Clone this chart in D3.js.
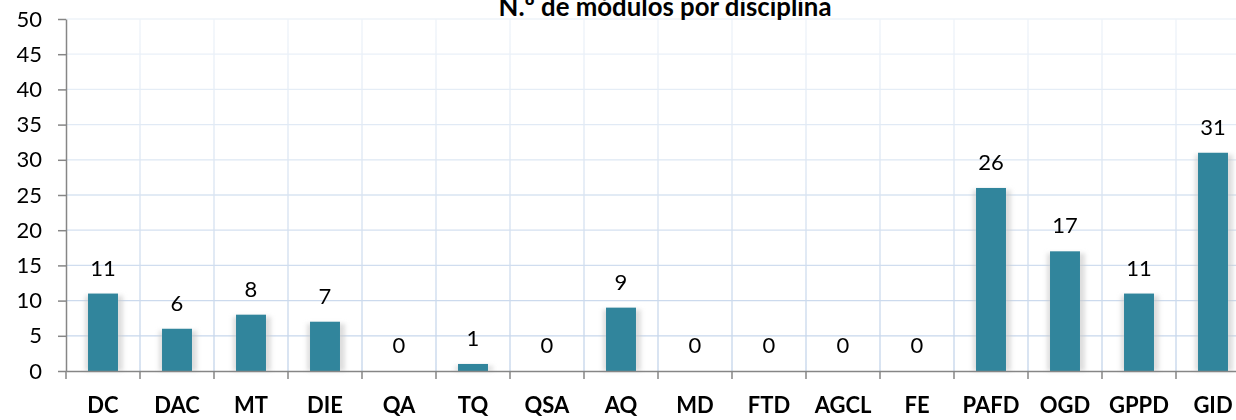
<!DOCTYPE html>
<html>
<head>
<meta charset="utf-8">
<script src="https://cdn.jsdelivr.net/npm/d3@7"></script>
<style>
  html, body { margin: 0; padding: 0; background: #fff; overflow: hidden; }
  svg { display: block; font-family: Lato, "Open Sans", sans-serif; }
</style>
</head>
<body>
<div id="chart"></div>
<script>
const width = 1236;
const height = 420;
const margin = { top: 19, right: -14, bottom: 49, left: 66 };
const innerWidth = width - margin.left - margin.right;
const innerHeight = height - margin.top - margin.bottom;

const categories = ["DC", "DAC", "MT", "DIE", "QA", "TQ", "QSA", "AQ", "MD", "FTD", "AGCL", "FE", "PAFD", "OGD", "GPPD", "GID"];
const modules = [11, 6, 8, 7, 0, 1, 0, 9, 0, 0, 0, 0, 26, 17, 11, 31];
const yTicks = [0, 5, 10, 15, 20, 25, 30, 35, 40, 45, 50];
const title = "N.º de módulos por disciplina";

const data = categories.map((c, i) => ({ cat: c, value: modules[i] }));

const svg = d3.select("#chart")
  .append("svg")
  .attr("width", width)
  .attr("height", height)
  .attr("viewBox", [0, 0, width, height]);

const defs = svg.append("defs");

const gridGrad = defs.append("linearGradient")
  .attr("id", "gridGrad")
  .attr("gradientUnits", "userSpaceOnUse")
  .attr("x1", 0).attr("y1", 0)
  .attr("x2", 0).attr("y2", innerHeight);
gridGrad.append("stop").attr("offset", "0%").attr("stop-color", "#eef3f9");
gridGrad.append("stop").attr("offset", "100%").attr("stop-color", "#c3d4ea");

defs.append("filter")
  .attr("id", "glow")
  .attr("x", "-50%").attr("y", "-20%")
  .attr("width", "200%").attr("height", "140%")
  .append("feGaussianBlur")
  .attr("stdDeviation", 2.2);

const innerChart = svg.append("g")
  .attr("transform", `translate(${margin.left}, ${margin.top})`);

const xScale = d3.scaleBand()
  .domain(categories)
  .range([0, innerWidth])
  .padding(0);

const yScale = d3.scaleLinear()
  .domain([0, 50])
  .range([innerHeight, 0]);

const barWidth = xScale.bandwidth() * 0.405;

// horizontal grid
innerChart.append("g")
  .selectAll("line")
  .data(yTicks.filter(d => d > 0))
  .join("line")
  .attr("x1", 0)
  .attr("x2", innerWidth)
  .attr("y1", d => yScale(d))
  .attr("y2", d => yScale(d))
  .attr("stroke", d => d3.interpolateRgb("#c3d4ea", "#eef3f9")(d / 50))
  .attr("stroke-width", 1.3);

// vertical grid at band edges
innerChart.append("g")
  .selectAll("line")
  .data(categories.slice(1))
  .join("line")
  .attr("x1", d => xScale(d))
  .attr("x2", d => xScale(d))
  .attr("y1", 0)
  .attr("y2", innerHeight)
  .attr("stroke", "url(#gridGrad)")
  .attr("stroke-width", 1.3);

// bar shadows
innerChart.append("g")
  .attr("filter", "url(#glow)")
  .selectAll("rect")
  .data(data.filter(d => d.value > 0))
  .join("rect")
  .attr("x", d => xScale(d.cat) + (xScale.bandwidth() - barWidth) / 2 - 3)
  .attr("width", barWidth + 8)
  .attr("y", d => yScale(d.value) + 2)
  .attr("height", d => innerHeight - yScale(d.value) - 2)
  .attr("fill", "#c8c8c8")
  .attr("opacity", 0.6);

// bars
innerChart.append("g")
  .selectAll("rect")
  .data(data)
  .join("rect")
  .attr("x", d => xScale(d.cat) + (xScale.bandwidth() - barWidth) / 2)
  .attr("width", barWidth)
  .attr("y", d => yScale(d.value))
  .attr("height", d => innerHeight - yScale(d.value))
  .attr("fill", "#31859c");

// value labels
innerChart.append("g")
  .selectAll("text")
  .data(data)
  .join("text")
  .attr("x", d => xScale(d.cat) + xScale.bandwidth() / 2)
  .attr("y", d => yScale(d.value) - 18)
  .attr("text-anchor", "middle")
  .attr("font-size", 22)
  .attr("fill", "#000")
  .text(d => d.value);

// axes
const xAxis = d3.axisBottom(xScale)
  .tickSize(0)
  .tickPadding(0)
  .tickSizeOuter(0);

const xAxisG = innerChart.append("g")
  .attr("transform", `translate(0, ${innerHeight})`)
  .call(xAxis);
xAxisG.select(".domain").attr("stroke", "#868686").attr("stroke-width", 1.5);
xAxisG.selectAll(".tick text")
  .attr("y", 42)
  .attr("dy", null)
  .attr("font-size", 22)
  .attr("font-weight", "bold")
  .attr("fill", "#000")
  .attr("font-family", "Lato, sans-serif");

xAxisG.append("g")
  .selectAll("line")
  .data(categories)
  .join("line")
  .attr("x1", d => xScale(d))
  .attr("x2", d => xScale(d))
  .attr("y1", 0)
  .attr("y2", 8)
  .attr("stroke", "#868686")
  .attr("stroke-width", 1.5);

const yAxis = d3.axisLeft(yScale)
  .tickValues(yTicks)
  .tickSize(8)
  .tickPadding(16)
  .tickSizeOuter(0);

const yAxisG = innerChart.append("g").call(yAxis);
yAxisG.select(".domain").attr("stroke", "#868686").attr("stroke-width", 1.5);
yAxisG.selectAll(".tick line").attr("stroke", "#868686").attr("stroke-width", 1.5);
yAxisG.selectAll(".tick text")
  .attr("font-size", 22)
  .attr("fill", "#000")
  .attr("font-family", "Lato, sans-serif");

// title
const titleText = svg.append("text")
  .attr("x", 665)
  .attr("y", 16)
  .attr("text-anchor", "middle")
  .attr("font-size", 24)
  .attr("font-weight", "bold")
  .attr("fill", "#000")
  .text(title);
const tw = titleText.node().getComputedTextLength();
titleText.attr("font-size", 24 * 333 / tw);
</script>
</body>
</html>
